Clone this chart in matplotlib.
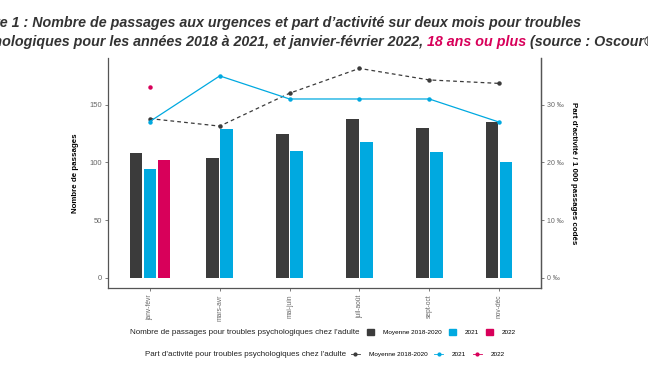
import matplotlib.pyplot as plt
from matplotlib.patches import Patch
from matplotlib.lines import Line2D
import numpy as np

plt.rcParams['font.family'] = ['Liberation Sans', 'DejaVu Sans']

# === Data ===
periods = ["janv-févr", "mars-avr", "mai-juin", "juil-août", "sept-oct", "nov-déc"]
passages_moy = [108, 103.5, 124.5, 137.5, 130, 135]
passages_2021 = [94, 129, 110, 118, 109, 100]
passages_2022 = [102]
part_moy = [27.6, 26.3, 32.0, 36.3, 34.3, 33.7]   # ‰
part_2021 = [27.1, 35.0, 31.0, 31.0, 31.0, 27.0]   # ‰
part_2022 = [33.0]

c_dark = "#3b3b3b"
c_blue = "#00a9e0"
c_red = "#d8005a"
c_axis = "#555555"
c_tick = "#666666"

fig = plt.figure(figsize=(6.48, 3.68), dpi=100)
ax = fig.add_axes([108 / 648, 1 - 288 / 368, (541 - 108) / 648, (288 - 58) / 368])
ax2 = ax.twinx()

x = np.arange(len(periods))
w = 0.18
step = 0.2

# bars: 3 in first group, 2 in others (dodged around tick)
for i in range(len(periods)):
    vals = [(passages_moy[i], c_dark), (passages_2021[i], c_blue)]
    if i < len(passages_2022):
        vals.append((passages_2022[i], c_red))
    n = len(vals)
    for j, (v, c) in enumerate(vals):
        ax.bar(x[i] + (j - (n - 1) / 2) * step, v, width=w, color=c, zorder=2)

# lines on right axis (‰)
ax2.plot(x, part_moy, color=c_dark, linestyle=(0, (3, 2.5)), linewidth=0.9,
         marker="o", markersize=2.2, zorder=3)
ax2.plot(x, part_2021, color=c_blue, linewidth=0.9, marker="o", markersize=2.2, zorder=3)
ax2.plot(x[:len(part_2022)], part_2022, color=c_red, linestyle="none",
         marker="o", markersize=2.2, zorder=3)

ax.set_xlim(-0.6, 5.6)
ax.set_ylim(-8.7, 190.5)
ax2.set_ylim(-8.7 / 5, 190.5 / 5)

ax.set_xticks(x)
ax.set_xticklabels(periods, rotation=90, fontsize=4.8, color=c_tick)
ax.set_yticks([0, 50, 100, 150])
ax.set_yticklabels(["0", "50", "100", "150"], fontsize=5.5, color=c_tick)
ax2.set_yticks([0, 10, 20, 30])
ax2.set_yticklabels(["0 ‰", "10 ‰", "20 ‰", "30 ‰"], fontsize=5.0, color=c_tick)

for a in (ax, ax2):
    a.tick_params(length=2.5, width=0.6, color=c_tick, pad=2)
    a.spines["top"].set_visible(False)
    for s in ("left", "right", "bottom"):
        a.spines[s].set_color(c_axis)
        a.spines[s].set_linewidth(0.9)
ax2.spines["left"].set_visible(False)
ax2.spines["bottom"].set_visible(False)

ax.set_ylabel("Nombre de passages", fontsize=5.7, fontweight="bold", labelpad=7)
ax2.set_ylabel("Part d'activité / 1 000 passages codés", fontsize=5.7, fontweight="bold",
               rotation=-90, labelpad=9)

# === Title (cropped at both sides, as in the original) ===
tfont = dict(family="Liberation Sans", fontsize=10.3, fontweight="bold", style="italic")
renderer = fig.canvas.get_renderer()
tcol = "#333333"

def text_w(s):
    t = fig.text(0, 0, s, **tfont)
    wpx = t.get_window_extent(renderer).width
    t.remove()
    return wpx / fig.bbox.width

y1 = 1 - 26.5 / 368
y2 = 1 - 46 / 368
fig.text(-text_w("Figur"), y1,
         "Figure 1 : Nombre de passages aux urgences et part d’activité sur deux mois pour troubles",
         color=tcol, va="baseline", **tfont)
parts = [("psychologiques pour les années 2018 à 2021, et janvier-février 2022, ", tcol),
         ("18 ans ou plus", c_red),
         (" (source : Oscour®)", tcol)]
xpos = -text_w("psych") + 2 / 648
for s, c in parts:
    fig.text(xpos, y2, s, color=c, va="baseline", **tfont)
    xpos += text_w(s)

# === Legends ===
lfont = 4.6
h1 = [Patch(color=c_dark), Patch(color=c_blue), Patch(color=c_red)]
fig.legend(h1, ["Moyenne 2018-2020", "2021", "2022"], ncol=3, frameon=False,
           loc="center left", bbox_to_anchor=(367 / 648, 1 - 332 / 368),
           fontsize=lfont, handlelength=1.1, handleheight=1.1,
           handletextpad=1.4, columnspacing=1.1, borderaxespad=0, borderpad=0)
fig.text(359 / 648, 1 - 332 / 368, "Nombre de passages pour troubles psychologiques chez l'adulte",
         fontsize=5.75, ha="right", va="center", color="#222222")

h2 = [Line2D([], [], color=c, marker="o", markersize=2, linewidth=0.6)
      for c in (c_dark, c_blue, c_red)]
fig.legend(h2, ["Moyenne 2018-2020", "2021", "2022"], ncol=3, frameon=False,
           loc="center left", bbox_to_anchor=(351 / 648, 1 - 354 / 368),
           fontsize=lfont, handlelength=1.4, handletextpad=1.4,
           columnspacing=1.0, borderaxespad=0, borderpad=0)
fig.text(346 / 648, 1 - 354 / 368, "Part d'activité pour troubles psychologiques chez l'adulte",
         fontsize=5.75, ha="right", va="center", color="#222222")

fig.savefig("out.png", dpi=100)
